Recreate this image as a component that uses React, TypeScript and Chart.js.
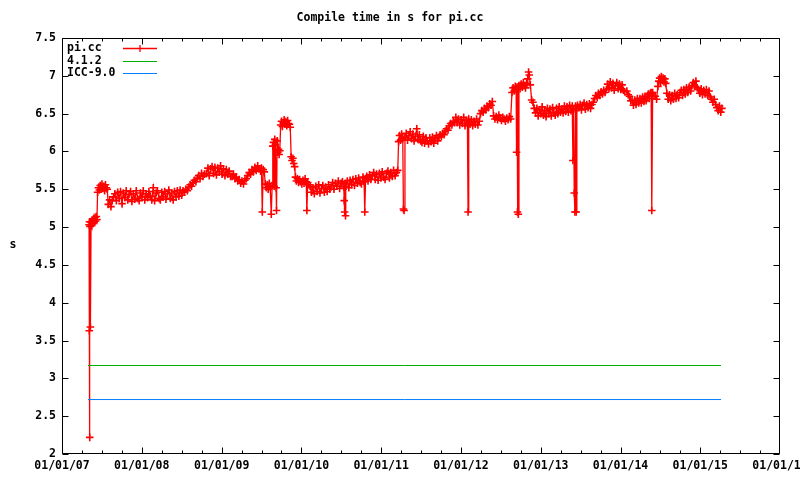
import React, { useEffect, useRef } from "react";
import { Chart, registerables } from "chart.js";

Chart.register(...registerables);

const TITLE = "Compile time in s for pi.cc";
const Y_LABEL = "s";
const seriesNames = ["pi.cc", "4.1.2", "ICC-9.0"];
const seriesColors = ["#ff0000", "#00b000", "#0080ff"];

// build dates, as days since 01/01/07
const buildDays = [
  124, 125, 126, 127, 128, 130, 133, 136, 139, 142,
  145, 148, 151, 154, 157, 160,
  163, 167, 171, 175, 179, 183, 187, 191, 195, 199,
  203, 207,
  212, 218, 224, 230, 236, 242, 249, 255, 262, 268,
  275, 281, 288, 294, 301, 307, 314, 320, 327, 333,
  340, 346, 353, 359, 366, 372, 379, 385, 392, 398,
  405, 411, 418, 424, 431, 437, 444, 450, 457, 463,
  470, 476, 483, 489, 496, 502, 509, 515, 522, 528,
  535, 541, 548, 554,
  561, 567, 574, 580, 587, 593, 600, 606, 613, 619,
  626, 632, 639, 645, 652,
  661, 668, 674, 681, 687, 694, 700, 707, 713, 720,
  726, 733, 739, 746, 752, 759, 765, 772,
  779, 785, 792, 798, 805, 811, 818, 824, 831, 837,
  844, 850, 857, 863, 870, 876, 883, 889, 896, 902,
  909, 913, 917, 921, 926,
  931, 935, 940, 944, 949, 953, 958, 962, 965, 968,
  971, 974, 977, 980, 982, 985, 988, 991, 994, 997,
  1001, 1005, 1009, 1013, 1017, 1021, 1025, 1029, 1033, 1037,
  1041, 1045, 1049, 1053, 1057, 1061, 1065, 1069, 1073, 1078,
  1083, 1088, 1093, 1098, 1103, 1108, 1113, 1118, 1121, 1125,
  1129,
  1136, 1142, 1149, 1155, 1162, 1168, 1175, 1181, 1188, 1194,
  1201, 1207, 1214, 1220, 1226,
  1232, 1239, 1245, 1252, 1258, 1265, 1271, 1278, 1284, 1290,
  1292, 1294, 1296, 1298, 1300, 1306, 1313, 1319, 1326, 1332,
  1339, 1345, 1352, 1358, 1365, 1371, 1378, 1383, 1386, 1390,
  1395, 1401, 1408, 1414, 1421, 1427, 1434, 1440, 1447, 1453,
  1460, 1466, 1473, 1479, 1486, 1492, 1499, 1505, 1512, 1518,
  1525, 1531, 1537,
  1541, 1545, 1550, 1555, 1560, 1563, 1566, 1570, 1576, 1582,
  1588, 1594, 1600, 1606, 1612, 1618, 1624, 1630, 1636, 1642,
  1648, 1654, 1660, 1666, 1672, 1678, 1684, 1690, 1696, 1702,
  1708, 1714, 1720, 1726, 1731,
  1737, 1743, 1749, 1755, 1761, 1767, 1773, 1779, 1785, 1791,
  1797,
  1803, 1809, 1815, 1821, 1827, 1833, 1839, 1845, 1851, 1856,
  1859, 1862, 1868, 1874, 1880, 1886, 1892, 1898, 1904, 1910,
  1916, 1922, 1928, 1934, 1940, 1946, 1952, 1958, 1964, 1970,
  1976, 1982, 1988, 1994, 2000, 2006, 2012, 2018, 2024, 2030,
  2036, 2042, 2048, 2054,
  2060, 2065, 2070, 2075, 2079, 2081, 2083, 2085, 2087, 2089,
  2092, 2097, 2102, 2107, 2112, 2117, 2122, 2127, 2132, 2136,
  2139, 2144, 2150, 2156, 2162,
  2168, 2174, 2180, 2186, 2192, 2198, 2204, 2210, 2216, 2222,
  2228, 2234, 2240, 2246, 2252, 2258, 2264, 2270, 2276, 2282,
  2288, 2294, 2300, 2306, 2312, 2318, 2324, 2330, 2336, 2339,
  2342, 2345, 2348, 2351, 2354, 2357, 2360,
  2366, 2372, 2378, 2384, 2390, 2396, 2402, 2408, 2414, 2420,
  2426, 2432,
  2438, 2444, 2450, 2456, 2462, 2468, 2474, 2480, 2486,
  2492, 2498, 2504, 2510, 2516, 2522, 2528, 2534, 2540, 2546,
  2552, 2558, 2564, 2570, 2576,
  2586, 2592, 2598, 2604, 2610, 2616, 2622, 2628, 2634, 2640,
  2646, 2652, 2658, 2664, 2669, 2674, 2679, 2684, 2688, 2693,
  2697, 2700, 2704, 2710, 2716, 2722,
  2728, 2732, 2736, 2740, 2744, 2748, 2752, 2756, 2760, 2764,
  2769, 2775, 2781, 2787, 2793, 2799, 2805, 2811, 2817, 2823,
  2829, 2835, 2841, 2847, 2853, 2859, 2865, 2871,
  2878, 2884, 2890, 2896, 2902, 2908, 2914, 2920, 2926, 2932,
  2938, 2944, 2950, 2956, 2962, 2968, 2974, 2980, 2986, 2992,
  2998, 3004, 3010, 3016, 3021,
];

// pi.cc compile time (s)
const piTimes = [
  5.03, 3.63, 5.07, 2.22, 5.01, 3.68, 5.06, 5.02, 5.09, 5.05,
  5.11, 5.07, 5.13, 5.08, 5.14, 5.10,
  5.46, 5.52, 5.49, 5.55, 5.50, 5.57, 5.51, 5.54, 5.48, 5.56,
  5.52, 5.50,
  5.30, 5.36, 5.27, 5.35, 5.40, 5.44, 5.35, 5.46, 5.38, 5.47,
  5.31, 5.45, 5.39, 5.48, 5.36, 5.43, 5.47, 5.34, 5.44, 5.37,
  5.48, 5.38, 5.35, 5.45, 5.40, 5.48, 5.36, 5.44, 5.39, 5.47,
  5.41, 5.36, 5.52, 5.35, 5.45, 5.48, 5.38, 5.36, 5.46, 5.40,
  5.47, 5.37, 5.44, 5.49, 5.38, 5.45, 5.36, 5.47, 5.40, 5.48,
  5.41, 5.49, 5.42, 5.48,
  5.46, 5.50, 5.48, 5.53, 5.56, 5.54, 5.59, 5.62, 5.60, 5.65,
  5.68, 5.64, 5.71, 5.67, 5.70,
  5.71, 5.78, 5.68, 5.77, 5.80, 5.71, 5.79, 5.69, 5.78, 5.73,
  5.81, 5.70, 5.77, 5.68, 5.76, 5.70, 5.74, 5.67,
  5.67, 5.70, 5.64, 5.66, 5.61, 5.63, 5.58, 5.61, 5.57, 5.62,
  5.64, 5.68, 5.72, 5.70, 5.76, 5.73, 5.79, 5.75, 5.81, 5.77,
  5.74, 5.78, 5.20, 5.76, 5.73,
  5.57, 5.52, 5.56, 5.50, 5.58, 5.53, 5.17, 5.55, 6.07, 6.12,
  5.54, 6.16, 6.09, 5.52, 5.22, 6.14, 5.99, 6.03, 5.96, 6.01,
  6.35, 6.40, 6.33, 6.38, 6.42, 6.36, 6.39, 6.34, 6.41, 6.37,
  6.36, 6.32, 5.93, 5.88, 5.91, 5.84, 5.80, 5.66, 5.61, 5.64,
  5.59, 5.63, 5.60, 5.57, 5.62, 5.58, 5.64, 5.60, 5.22, 5.59,
  5.56,
  5.54, 5.46, 5.52, 5.44, 5.54, 5.47, 5.56, 5.45, 5.51, 5.55,
  5.46, 5.53, 5.47, 5.56, 5.50,
  5.53, 5.59, 5.50, 5.58, 5.54, 5.61, 5.51, 5.58, 5.60, 5.53,
  5.35, 5.20, 5.58, 5.15, 5.54, 5.61, 5.52, 5.62, 5.56, 5.63,
  5.55, 5.64, 5.58, 5.65, 5.59, 5.57, 5.66, 5.60, 5.20, 5.64,
  5.67, 5.61, 5.69, 5.63, 5.68, 5.72, 5.63, 5.70, 5.62, 5.71,
  5.65, 5.73, 5.66, 5.63, 5.71, 5.74, 5.65, 5.72, 5.67, 5.75,
  5.68, 5.72, 5.75,
  6.13, 6.21, 6.15, 6.23, 6.17, 5.24, 5.22, 6.19, 6.24, 6.15,
  6.21, 6.26, 6.17, 6.23, 6.14, 6.20, 6.30, 6.16, 6.22, 6.14,
  6.12, 6.20, 6.11, 6.18, 6.14, 6.10, 6.18, 6.13, 6.19, 6.11,
  6.17, 6.21, 6.14, 6.19, 6.22,
  6.20, 6.24, 6.22, 6.27, 6.30, 6.28, 6.34, 6.37, 6.35, 6.40,
  6.38,
  6.45, 6.38, 6.43, 6.35, 6.42, 6.37, 6.45, 6.34, 6.41, 6.37,
  5.20, 6.43, 6.36, 6.42, 6.34, 6.40, 6.36, 6.43, 6.35, 6.40,
  6.50, 6.54, 6.52, 6.57, 6.55, 6.60, 6.58, 6.63, 6.61, 6.66,
  6.47, 6.43, 6.46, 6.42, 6.48, 6.44, 6.41, 6.45, 6.43, 6.40,
  6.44, 6.42, 6.46, 6.43,
  6.78, 6.84, 6.80, 6.86, 6.82, 5.99, 6.85, 5.20, 6.83, 5.17,
  6.87, 6.83, 6.89, 6.85, 6.91, 6.87, 6.84, 6.90, 6.96, 7.05,
  7.01, 6.88, 6.68, 6.65, 6.57,
  6.51, 6.57, 6.47, 6.55, 6.50, 6.59, 6.48, 6.54, 6.46, 6.57,
  6.50, 6.56, 6.47, 6.58, 6.51, 6.48, 6.57, 6.50, 6.59, 6.52,
  6.56, 6.51, 6.60, 6.53, 6.59, 6.52, 6.61, 6.54, 6.60, 5.88,
  6.56, 5.45, 5.20, 6.60, 5.20, 6.57, 6.61,
  6.58, 6.62, 6.55, 6.61, 6.64, 6.56, 6.62, 6.58, 6.63, 6.57,
  6.62, 6.65,
  6.70, 6.74, 6.71, 6.77, 6.74, 6.79, 6.76, 6.81, 6.78,
  6.82, 6.89, 6.83, 6.92, 6.84, 6.90, 6.81, 6.87, 6.91, 6.83,
  6.89, 6.82, 6.88, 6.81, 6.79,
  6.80, 6.75, 6.73, 6.67, 6.67, 6.61, 6.68, 6.62, 6.70, 6.64,
  6.70, 6.64, 6.72, 6.66, 6.73, 6.67, 6.73, 6.76, 6.70, 6.77,
  6.78, 5.22, 6.78, 6.73, 6.73, 6.69,
  6.86, 6.93, 6.97, 6.91, 6.99, 6.94, 6.97, 6.92, 6.96, 6.90,
  6.77, 6.69, 6.75, 6.67, 6.74, 6.69, 6.77, 6.70, 6.75, 6.71,
  6.78, 6.81, 6.74, 6.82, 6.76, 6.84, 6.78, 6.85,
  6.80, 6.87, 6.91, 6.86, 6.93, 6.84, 6.82, 6.77, 6.83, 6.75,
  6.81, 6.76, 6.82, 6.74, 6.80, 6.72, 6.69, 6.65, 6.69, 6.62,
  6.58, 6.54, 6.60, 6.52, 6.57,
];

// reference compilers: constant compile time over the same period
const gccDays = [119, 3017];
const gccTimes = [3.17, 3.17];
const iccDays = [119, 3017];
const iccTimes = [2.72, 2.72];

const xTickYears = [2007, 2008, 2009, 2010, 2011, 2012, 2013, 2014, 2015, 2016];
const yTickValues = [2, 2.5, 3, 3.5, 4, 4.5, 5, 5.5, 6, 6.5, 7, 7.5];

const EPOCH = Date.UTC(2007, 0, 1);
const DAY_MS = 86400000;
const yearStartDay = (y: number) => (Date.UTC(y, 0, 1) - EPOCH) / DAY_MS;
const xTickDays = xTickYears.map(yearStartDay);

const FONT_FAMILY = '"DejaVu Sans Mono", "Liberation Mono", monospace';
const FONT_SIZE = 11.5;

function fmtDay(day: number): string {
  const d = new Date(EPOCH + Math.round(day) * DAY_MS);
  const dd = String(d.getUTCDate()).padStart(2, "0");
  const mm = String(d.getUTCMonth() + 1).padStart(2, "0");
  const yy = String(d.getUTCFullYear() % 100).padStart(2, "0");
  return `${mm}/${dd}/${yy}`;
}

const gnuplotFrame = {
  id: "gnuplotFrame",
  afterDatasetsDraw(chart: any) {
    const { ctx, chartArea } = chart;
    const xs = chart.scales.x;
    const ys = chart.scales.y;
    const L = Math.round(chartArea.left) + 0.5;
    const R = Math.round(chartArea.right) - 0.5;
    const T = Math.round(chartArea.top) + 0.5;
    const B = Math.round(chartArea.bottom) - 0.5;
    ctx.save();
    ctx.strokeStyle = "#000";
    ctx.lineWidth = 1;
    ctx.beginPath();
    ctx.rect(L, T, R - L, B - T);
    for (let i = 0; i < xTickDays.length; i++) {
      const px = Math.min(R, Math.round(xs.getPixelForValue(xTickDays[i])) + 0.5);
      ctx.moveTo(px, B);
      ctx.lineTo(px, B - 6);
      ctx.moveTo(px, T);
      ctx.lineTo(px, T + 6);
      if (i < xTickDays.length - 1) {
        const span = xTickDays[i + 1] - xTickDays[i];
        for (let q = 1; q < 4; q++) {
          const mx = Math.round(xs.getPixelForValue(xTickDays[i] + (span * q) / 4)) + 0.5;
          ctx.moveTo(mx, B);
          ctx.lineTo(mx, B - 3);
          ctx.moveTo(mx, T);
          ctx.lineTo(mx, T + 3);
        }
      }
    }
    for (const v of yTickValues) {
      const py = Math.round(ys.getPixelForValue(v)) + 0.5;
      ctx.moveTo(L, py);
      ctx.lineTo(L + 6, py);
      ctx.moveTo(R, py);
      ctx.lineTo(R - 6, py);
    }
    ctx.stroke();

    // legend (gnuplot style: title, then sample)
    ctx.font = `bold ${FONT_SIZE}px ${FONT_FAMILY}`;
    ctx.textBaseline = "middle";
    ctx.textAlign = "left";
    ctx.fillStyle = "#000";
    const rows = [48.5, 61.5, 73.5];
    for (let i = 0; i < seriesNames.length; i++) {
      const ry = rows[i];
      ctx.fillText(seriesNames[i], 67, ry);
      ctx.strokeStyle = seriesColors[i];
      ctx.lineWidth = i === 0 ? 1.3 : 1;
      ctx.beginPath();
      ctx.moveTo(123, ry);
      ctx.lineTo(157, ry);
      if (i === 0) {
        ctx.moveTo(136.5, ry);
        ctx.lineTo(143.5, ry);
        ctx.moveTo(140, ry - 3.5);
        ctx.lineTo(140, ry + 3.5);
      }
      ctx.stroke();
    }

    // y axis label, horizontal
    ctx.fillStyle = "#000";
    ctx.textAlign = "center";
    ctx.fillText(Y_LABEL, 13, 245);
    ctx.restore();
  },
};

export default function App() {
  const canvasRef = useRef<HTMLCanvasElement | null>(null);

  useEffect(() => {
    const canvas = canvasRef.current;
    if (!canvas) return;
    const font = { family: FONT_FAMILY, size: FONT_SIZE, weight: "bold" as const };
    const chart = new Chart(canvas, {
      type: "scatter",
      data: {
        datasets: [
          {
            label: seriesNames[0],
            data: buildDays.map((d, i) => ({ x: d, y: piTimes[i] })),
            showLine: true,
            borderColor: seriesColors[0],
            borderWidth: 1.3,
            pointStyle: "cross",
            pointRadius: 3.8,
            pointBorderColor: seriesColors[0],
            pointBorderWidth: 1.6,
            pointBackgroundColor: seriesColors[0],
            tension: 0,
            order: 3,
          },
          {
            label: seriesNames[1],
            data: gccDays.map((d, i) => ({ x: d, y: gccTimes[i] })),
            showLine: true,
            borderColor: seriesColors[1],
            borderWidth: 1,
            pointRadius: 0,
            order: 2,
          },
          {
            label: seriesNames[2],
            data: iccDays.map((d, i) => ({ x: d, y: iccTimes[i] })),
            showLine: true,
            borderColor: seriesColors[2],
            borderWidth: 1,
            pointRadius: 0,
            order: 1,
          },
        ],
      },
      options: {
        responsive: false,
        animation: false,
        devicePixelRatio: 1,
        events: [],
        layout: { padding: { left: 0, right: 20, top: 0, bottom: 0 } },
        plugins: {
          legend: { display: false },
          tooltip: { enabled: false },
          title: {
            display: true,
            text: TITLE,
            color: "#000",
            font: { ...font, lineHeight: 1.2 },
            padding: { top: 11, bottom: 13.2 },
          },
        },
        scales: {
          x: {
            type: "linear",
            min: xTickDays[0],
            max: xTickDays[xTickDays.length - 1],
            grid: { display: false, drawTicks: false },
            border: { display: false },
            afterBuildTicks: (s: any) => {
              s.ticks = xTickDays.map((v) => ({ value: v }));
            },
            ticks: {
              autoSkip: false,
              maxRotation: 0,
              minRotation: 0,
              padding: 5,
              color: "#000",
              font,
              callback: (v: any) => fmtDay(Number(v)),
            },
            afterFit: (s: any) => {
              s.height = 26;
              s.paddingLeft = 0;
              s.paddingRight = 0;
            },
          },
          y: {
            type: "linear",
            min: 2,
            max: 7.5,
            grid: { display: false, drawTicks: false },
            border: { display: false },
            ticks: {
              stepSize: 0.5,
              padding: 6,
              color: "#000",
              font,
              callback: (v: any) => String(Math.round(Number(v) * 10) / 10),
            },
            afterFit: (s: any) => {
              s.width = 62;
              s.paddingTop = 0;
              s.paddingBottom = 0;
            },
          },
        },
      },
      plugins: [gnuplotFrame],
    });
    return () => chart.destroy();
  }, []);

  return (
    <div style={{ position: "absolute", left: 0, top: 0, width: 800, height: 480, background: "#fff" }}>
      <canvas ref={canvasRef} width={800} height={480} style={{ display: "block" }} />
    </div>
  );
}
